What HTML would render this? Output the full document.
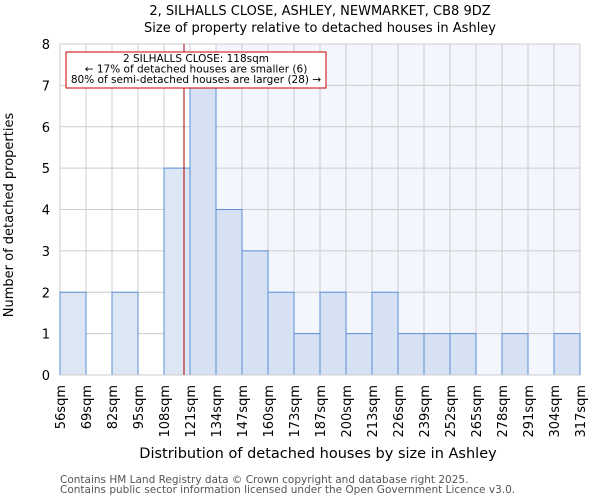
<!DOCTYPE html>
<html><head><meta charset="utf-8"><style>
body{margin:0;background:#fff;font-family:"DejaVu Sans","Liberation Sans",sans-serif}
svg text{font-family:"DejaVu Sans","Liberation Sans",sans-serif}
</style></head><body>
<svg id="c" width="600" height="500" xmlns="http://www.w3.org/2000/svg">
<text x="320" y="15" text-anchor="middle" font-size="13">2, SILHALLS CLOSE, ASHLEY, NEWMARKET, CB8 9DZ</text>
<text x="320" y="32" text-anchor="middle" font-size="13">Size of property relative to detached houses in Ashley</text>
<g id="plot"></g>
<text x="318" y="458" text-anchor="middle" font-size="14.5">Distribution of detached houses by size in Ashley</text>
<text transform="translate(13,215) rotate(-90)" text-anchor="middle" font-size="13">Number of detached properties</text>
<text x="60" y="483" font-size="10.5" fill="#555">Contains HM Land Registry data © Crown copyright and database right 2025.</text>
<text x="60" y="493" font-size="10.5" fill="#555">Contains public sector information licensed under the Open Government Licence v3.0.</text>
</svg>
<script>
const tickLabels=["56sqm","69sqm","82sqm","95sqm","108sqm","121sqm","134sqm","147sqm","160sqm","173sqm","187sqm","200sqm","213sqm","226sqm","239sqm","252sqm","265sqm","278sqm","291sqm","304sqm","317sqm"];
const counts=[2,0,2,0,5,7,4,3,2,1,2,1,2,1,1,1,0,1,0,1];
const yTicks=[0,1,2,3,4,5,6,7,8];
const propertyBin=4+10/13;
const NS="http://www.w3.org/2000/svg";
const g=document.getElementById('plot');
const X0=60,X1=580,Y0=375,Y1=44;
const bw=(X1-X0)/counts.length;
const xs=i=>X0+i*bw;
const ys=v=>Y0-(v/8)*(Y0-Y1);
function mk(t,a){const e=document.createElementNS(NS,t);for(const k in a)e.setAttribute(k,a[k]);g.appendChild(e);return e;}
let bg=mk('rect',{x:xs(6),y:Y1,width:X1-xs(6),height:Y0-Y1,fill:'#f3f6fd'});


yTicks.forEach(v=>{
 let l=mk('line',{x1:X0,x2:X1,y1:ys(v),y2:ys(v),stroke:'#ccc'});
 
 
 let t=mk('text',{x:50,y:ys(v)+5,'text-anchor':'end','font-size':13});
 t.textContent=v;
 
 
});
tickLabels.forEach((s,i)=>{
 let l=mk('line',{x1:xs(i),x2:xs(i),y1:Y1,y2:Y0,stroke:'#ccc'});
 
 
 let t=mk('text',{transform:`translate(${xs(i)+5},${Y0+10}) rotate(-90)`,'text-anchor':'end','font-size':13});
 t.textContent=s;
 
 
});
counts.forEach((v,i)=>{
 if(v<=0)return;
 let r=mk('rect',{x:xs(i),y:ys(v),width:bw,height:Y0-ys(v),fill:i<5?'#dde6f5':'#d6e2f4',stroke:'#5b8fd6','stroke-width':1});
 
 
});
let ax=mk('line',{x1:X0,x2:X1,y1:Y0,y2:Y0,stroke:'#ccc'});


let pl=mk('line',{x1:xs(propertyBin),x2:xs(propertyBin),y1:Y1,y2:Y0,stroke:'#a00','stroke-width':1});


let box=mk('rect',{x:66,y:52,width:260,height:36,fill:'#fff',stroke:'#c00','stroke-width':1});


["2 SILHALLS CLOSE: 118sqm","← 17% of detached houses are smaller (6)","80% of semi-detached houses are larger (28) →"].forEach((s,k)=>{
 let t=mk('text',{x:196,y:62+k*10.5,'text-anchor':'middle','font-size':10.5});
 t.textContent=s;
 
 
});
</script>
</body></html>
